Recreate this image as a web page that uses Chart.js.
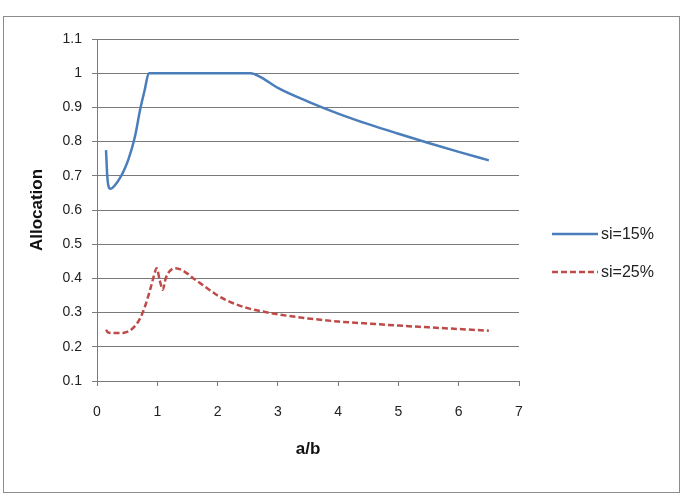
<!DOCTYPE html>
<html>
<head>
<meta charset="utf-8">
<script src="https://cdn.jsdelivr.net/npm/chart.js@4/dist/chart.umd.min.js"></script>
<style>
  body { margin: 0; background: #fff; }
  #box { width: 682px; height: 498px; }
</style>
</head>
<body>
<div id="box"><canvas id="line-chart" width="682" height="498"></canvas></div>
<script>
// values
var x15 = [0.15, 0.17, 0.2, 0.23, 0.3, 0.38, 0.45, 0.52, 0.63, 0.715, 0.79, 0.86, 1.5, 2.0, 2.55, 2.7, 3.0, 3.5, 4.0, 4.5, 5.0, 5.5, 6.0, 6.5];
var y15 = [0.775, 0.70, 0.665, 0.662, 0.673, 0.693, 0.717, 0.747, 0.815, 0.893, 0.95, 1.0, 1.0, 1.0, 1.0, 0.99, 0.957, 0.917, 0.882, 0.851, 0.823, 0.796, 0.77, 0.745];

var x25 = [0.15, 0.18, 0.25, 0.35, 0.45, 0.55, 0.65, 0.72, 0.8, 0.88, 0.94, 0.99, 1.04, 1.09, 1.14, 1.2, 1.3, 1.45, 1.6, 1.8, 2.0, 2.25, 2.5, 2.75, 3.0, 3.5, 4.0, 4.5, 5.0, 5.5, 6.0, 6.5];
var y25 = [0.25, 0.242, 0.24, 0.24, 0.241, 0.248, 0.265, 0.285, 0.32, 0.366, 0.405, 0.43, 0.395, 0.367, 0.40, 0.42, 0.43, 0.42, 0.40, 0.375, 0.35, 0.328, 0.313, 0.303, 0.295, 0.283, 0.274, 0.268, 0.262, 0.257, 0.252, 0.247];

var seriesLabels = ["si=15%", "si=25%"];
var xTickLabels = ["0", "1", "2", "3", "4", "5", "6", "7"];
var yTickLabels = ["0.1", "0.2", "0.3", "0.4", "0.5", "0.6", "0.7", "0.8", "0.9", "1", "1.1"];

function pts(xs, ys) {
  return xs.map(function (x, i) { return { x: x, y: ys[i] }; });
}

// white page + grey frame around the whole chart
var frame = {
  id: 'frame',
  beforeDraw: function (chart) {
    var ctx = chart.ctx;
    ctx.save();
    ctx.fillStyle = '#fff';
    ctx.fillRect(0, 0, chart.width, chart.height);
    ctx.strokeStyle = '#8c8c8c';
    ctx.lineWidth = 1;
    ctx.strokeRect(3.5, 16.5, 676, 476);
    ctx.restore();
  }
};

// legend on the right, drawn by hand so it sits where Excel put it
var sideLegend = {
  id: 'sideLegend',
  afterDraw: function (chart) {
    var ctx = chart.ctx;
    var rows = [234, 272];
    ctx.save();
    chart.data.datasets.forEach(function (ds, i) {
      var y = rows[i];
      ctx.strokeStyle = ds.borderColor;
      ctx.lineWidth = ds.borderWidth;
      ctx.setLineDash(ds.borderDash || []);
      ctx.beginPath();
      ctx.moveTo(552, y);
      ctx.lineTo(598, y);
      ctx.stroke();
      ctx.setLineDash([]);
      ctx.fillStyle = '#222';
      ctx.font = '16px "Liberation Sans", Arial, sans-serif';
      ctx.textBaseline = 'middle';
      ctx.fillText(ds.label, 601, y + 1);
    });
    ctx.restore();
  }
};

new Chart(document.getElementById("line-chart"), {
  type: 'line',
  data: {
    datasets: [
      {
        label: seriesLabels[0],
        data: pts(x15, y15),
        borderColor: "#4a7ebb",
        borderWidth: 2.5,
        cubicInterpolationMode: 'monotone',
        pointRadius: 0,
        fill: false
      },
      {
        label: seriesLabels[1],
        data: pts(x25, y25),
        borderColor: "#be4b48",
        borderWidth: 2.5,
        borderDash: [6, 3],
        cubicInterpolationMode: 'monotone',
        pointRadius: 0,
        fill: false
      }
    ]
  },
  options: {
    responsive: false,
    animation: false,
    layout: {
      padding: { left: 0, top: 39, right: 163, bottom: 0 }
    },
    plugins: {
      legend: { display: false },
      tooltip: { enabled: false }
    },
    scales: {
      x: {
        type: 'linear',
        min: 0,
        max: 7,
        afterFit: function (scale) { scale.height = 117; },
        grid: {
          drawOnChartArea: false,
          drawTicks: true,
          tickLength: 5,
          color: '#7a7a7a'
        },
        border: { color: '#7a7a7a', width: 1 },
        ticks: {
          stepSize: 1,
          padding: 18,
          color: '#222',
          font: { family: '"Liberation Sans", Arial, sans-serif', size: 14 },
          callback: function (value, index) { return xTickLabels[index]; }
        },
        title: {
          display: true,
          text: 'a/b',
          color: '#111',
          font: { family: '"Liberation Sans", Arial, sans-serif', size: 17, weight: 'bold' },
          padding: { top: 0, bottom: 38 }
        }
      },
      y: {
        min: 0.1,
        max: 1.1,
        afterFit: function (scale) { scale.width = 97; },
        grid: {
          drawTicks: true,
          tickLength: 5,
          color: '#7a7a7a',
          lineWidth: 1
        },
        border: { color: '#7a7a7a', width: 1 },
        ticks: {
          stepSize: 0.1,
          padding: 10,
          color: '#222',
          font: { family: '"Liberation Sans", Arial, sans-serif', size: 14 },
          callback: function (value, index) { return yTickLabels[index]; }
        },
        title: {
          display: true,
          text: 'Allocation',
          color: '#111',
          font: { family: '"Liberation Sans", Arial, sans-serif', size: 17, weight: 'bold' },
          padding: { top: 27, bottom: 0 }
        }
      }
    }
  },
  plugins: [frame, sideLegend]
});
</script>
</body>
</html>
